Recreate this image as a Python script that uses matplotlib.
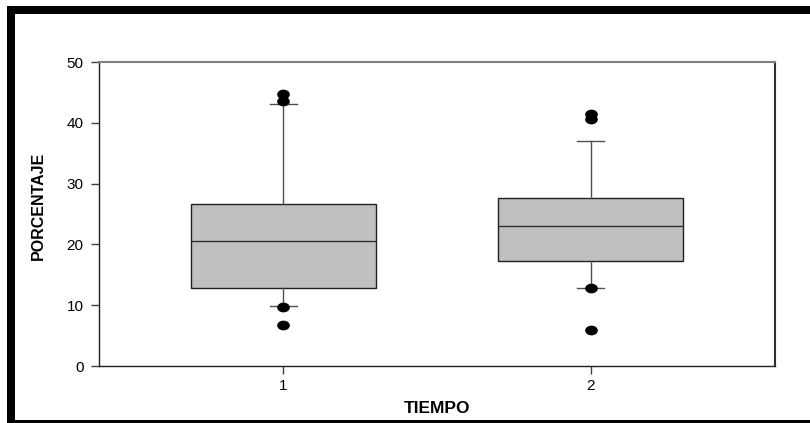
import matplotlib
matplotlib.use("Agg")
import matplotlib.pyplot as plt
from matplotlib.patches import Rectangle
from matplotlib.markers import MarkerStyle
from matplotlib.transforms import Affine2D

# box statistics
tiempo = [1, 2]
q1 = [12.8, 17.3]
mediana = [20.6, 23.1]
q3 = [26.6, 27.6]
bigote_inf = [9.9, 12.8]
bigote_sup = [43.1, 37.0]
atipicos = [[6.7, 9.75, 43.6, 44.8], [6.0, 12.8, 40.6, 41.5]]

yticks = [0, 10, 20, 30, 40, 50]

plt.rcParams['font.family'] = ['Liberation Sans', 'DejaVu Sans']

fig = plt.figure(figsize=(8.1, 4.23), dpi=100)
ax = fig.add_axes([99 / 810, 1 - 366 / 423, (775 - 99) / 810, (366 - 62) / 423])

stats = []
for i in range(len(tiempo)):
    stats.append(dict(med=mediana[i], q1=q1[i], q3=q3[i],
                      whislo=bigote_inf[i], whishi=bigote_sup[i],
                      fliers=atipicos[i]))

flier_marker = MarkerStyle('o', transform=Affine2D().scale(1.35, 1.0))
ax.bxp(stats, positions=tiempo, widths=0.6, capwidths=0.09,
       patch_artist=True, showfliers=True,
       boxprops=dict(facecolor='#c0c0c0', edgecolor='#202020', linewidth=1.0),
       medianprops=dict(color='#303030', linewidth=1.0),
       whiskerprops=dict(color='#505050', linewidth=1.0),
       capprops=dict(color='#505050', linewidth=1.0),
       flierprops=dict(marker=flier_marker, markerfacecolor='black',
                       markeredgecolor='black', markersize=6, linestyle='none'))

ax.set_xlim(0.4, 2.6)
ax.set_ylim(0, 50)
ax.set_yticks(yticks)
ax.set_xticks(tiempo)
ax.set_xticklabels([str(t) for t in tiempo])
ax.tick_params(axis='both', direction='out', length=6, width=1, color='#404040',
               labelsize=11)
ax.tick_params(axis='y', pad=5)
ax.tick_params(axis='x', pad=3)

for s in ['left', 'bottom']:
    ax.spines[s].set_color('#202020')
    ax.spines[s].set_linewidth(1.0)
ax.spines['top'].set_color('#808080')
ax.spines['top'].set_linewidth(1.5)
ax.spines['right'].set_color('#303030')
ax.spines['right'].set_linewidth(1.5)

fig.text(437 / 810, 1 - 408 / 423, 'TIEMPO', ha='center', va='center',
         fontsize=12.5, fontweight='bold')
fig.text(38 / 810, 1 - 206 / 423, 'PORCENTAJE', ha='center', va='center',
         rotation=90, fontsize=11.5, fontweight='bold')

# black frame round the chart
W, H = 810, 423
for x0, y0, w, h in [(7, 6, 803, 8), (7, 6, 8, 417), (7, 420, 803, 3)]:
    fig.patches.append(Rectangle((x0 / W, 1 - (y0 + h) / H), w / W, h / H,
                                 transform=fig.transFigure, facecolor='black',
                                 edgecolor='none'))

fig.savefig('out.png', dpi=100)
